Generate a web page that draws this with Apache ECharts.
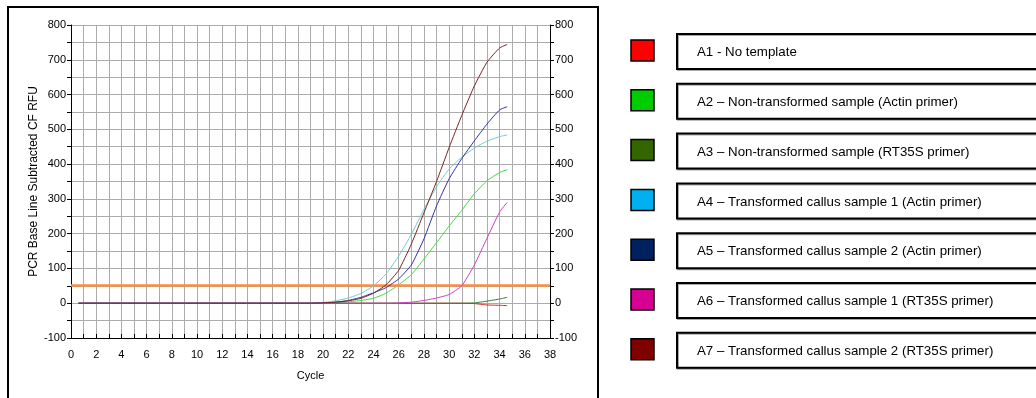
<!DOCTYPE html>
<html>
<head>
<meta charset="utf-8">
<script src="https://cdn.jsdelivr.net/npm/echarts@6/dist/echarts.min.js"></script>
<style>
html,body{margin:0;padding:0;background:#fff;}
#chart{width:1036px;height:398px;}
</style>
</head>
<body>
<div id="chart"></div>
<script>
// ---- data ----
const cycles = [0.6, 1, 2, 3, 4, 5, 6, 7, 8, 9, 10, 11, 12, 13, 14, 15, 16, 17, 18, 19, 20, 21, 22, 23, 24, 25, 26, 27, 28, 29, 30, 31, 32, 33, 34, 34.6];
const seriesNames = [
  'A1 - No template',
  'A2 \u2013 Non-transformed sample (Actin primer)',
  'A3 \u2013 Non-transformed sample (RT35S primer)',
  'A4 \u2013 Transformed callus sample 1 (Actin primer)',
  'A5 \u2013 Transformed callus sample 2 (Actin primer)',
  'A6 \u2013 Transformed callus sample 1 (RT35S primer)',
  'A7 \u2013 Transformed callus sample 2 (RT35S primer)'
];
const a1 = [0,0,0,0,0,0,0,0,0,0,0,0,0,0,0,0,0,0,0,0,0,0,0,0,0,0,0,0,0,0,0,0,-1,-5,-6,-7];
const a2 = [0,0,0,0,0,0,0,0,0,0,0,0,0,0,0,0,0,0,0,0,0,2,4,8,14,29,53,82,127,174,222,267,315,352,376,384];
const a3 = [0,0,0,0,0,0,0,0,0,0,0,0,0,0,0,0,0,0,0,0,0,0,0,0,0,0,0,0,0,0,0,0,1,6,12,17];
const a4 = [0,0,0,0,0,0,0,0,0,0,0,0,0,0,0,0,0,0,0,0,2,7,15,28,50,84,136,198,270,335,386,420,446,466,479,484];
const a5 = [0,0,0,0,0,0,0,0,0,0,0,0,0,0,0,0,0,0,0,0,1,3,8,17,30,45,70,110,185,280,358,416,467,515,556,565];
const a6 = [0,0,0,0,0,0,0,0,0,0,0,0,0,0,0,0,0,0,0,0,0,0,0,0,0,0,1,3,8,15,25,50,110,187,262,290];
const a7 = [0,0,0,0,0,0,0,0,0,0,0,0,0,0,0,0,0,0,0,0,1,3,7,14,29,53,95,170,260,350,448,540,625,693,734,744];
const seriesValues = [a1, a2, a3, a4, a5, a6, a7];
const threshold = 51;
const yTicks = [-100, 0, 100, 200, 300, 400, 500, 600, 700, 800];
const xTicks = [0, 2, 4, 6, 8, 10, 12, 14, 16, 18, 20, 22, 24, 26, 28, 30, 32, 34, 36, 38];

// ---- styles ----
const lineColors = ['#e02020', '#40d840', '#2f7f2f', '#70cccc', '#3030a8', '#cc40cc', '#7a2525'];
const legendColors = ['#ff0000', '#00cc00', '#336600', '#00b0f0', '#002060', '#d60093', '#800000'];
const FONT = '"Liberation Sans", Arial, sans-serif';
const gridColor = '#ababab';

const chart = echarts.init(document.getElementById('chart'), null, {renderer: 'canvas'});

const series = seriesValues.map((vals, i) => ({
  name: seriesNames[i],
  type: 'line',
  data: vals.map((v, j) => [cycles[j], v]),
  showSymbol: false,
  smooth: 0.15,
  lineStyle: {color: lineColors[i], width: 1},
  itemStyle: {color: lineColors[i]},
  z: 3 + i,
  animation: false
}));
series.push({
  name: 'Threshold',
  type: 'line',
  data: [],
  markLine: {
    silent: true,
    symbol: 'none',
    label: {show: false},
    lineStyle: {color: '#f98e43', width: 2.5, type: 'solid'},
    data: [{yAxis: threshold}]
  },
  z: 2,
  animation: false
});

// legend graphics built from names and colours
const graphics = [{
  type: 'rect', x: 8, y: 7, silent: true,
  shape: {x: 0, y: 0, width: 590, height: 420},
  style: {fill: 'none', stroke: '#000', lineWidth: 2}
}];
seriesNames.forEach((name, i) => {
  const top = 34 + i * 49.8;
  graphics.push({
    type: 'rect', silent: true, x: 631, y: top + 6,
    shape: {width: 23, height: 21},
    style: {fill: legendColors[i], stroke: '#000', lineWidth: 1.5}
  });
  graphics.push({
    type: 'rect', silent: true, x: 677, y: top,
    shape: {width: 420, height: 35},
    style: {fill: '#fff', stroke: '#000', lineWidth: 2, shadowColor: 'rgba(0,0,0,0.35)', shadowOffsetX: 1, shadowOffsetY: 1, shadowBlur: 0}
  });
  graphics.push({
    type: 'text', silent: true, x: 697, y: top + 18.5,
    style: {text: name, fill: '#000', font: '13.3px ' + FONT, verticalAlign: 'middle', align: 'left'}
  });
});

const yAxisBase = {
  type: 'value', min: yTicks[0], max: yTicks[yTicks.length - 1], interval: 100,
  axisLine: {show: true, lineStyle: {color: '#000', width: 1}},
  axisTick: {show: true, length: 4, lineStyle: {color: '#000'}},
  minorTick: {show: true, splitNumber: 2, length: 4, lineStyle: {color: '#000'}},
  axisLabel: {color: '#000', fontFamily: FONT, fontSize: 11, margin: 5}
};

chart.setOption({
  backgroundColor: '#fff',
  animation: false,
  grid: {left: 71, right: 486, top: 25, bottom: 60, containLabel: false},
  xAxis: {
    type: 'value', min: xTicks[0], max: xTicks[xTicks.length - 1], interval: 2,
    name: 'Cycle', nameLocation: 'middle', nameGap: 32,
    nameTextStyle: {color: '#000', fontFamily: FONT, fontSize: 11},
    axisLine: {show: true, onZero: false, lineStyle: {color: '#000', width: 1}},
    axisTick: {show: true, inside: true, length: 4, lineStyle: {color: '#000'}},
    minorTick: {show: true, splitNumber: 2, length: 4, lineStyle: {color: '#000'}},
    axisLabel: {color: '#000', fontFamily: FONT, fontSize: 11, margin: 11},
    splitLine: {show: true, lineStyle: {color: gridColor, width: 1}},
    minorSplitLine: {show: true, lineStyle: {color: gridColor, width: 1}}
  },
  yAxis: [
    Object.assign({}, yAxisBase, {
      position: 'left',
      name: 'PCR Base Line Subtracted CF RFU', nameLocation: 'middle', nameGap: 31,
      nameTextStyle: {color: '#000', fontFamily: FONT, fontSize: 12},
      splitLine: {show: true, lineStyle: {color: gridColor, width: 1}},
      minorSplitLine: {show: true, lineStyle: {color: gridColor, width: 1}}
    }),
    Object.assign({}, yAxisBase, {
      position: 'right',
      splitLine: {show: false},
      minorSplitLine: {show: false}
    })
  ],
  series: series,
  graphic: graphics
});
</script>
</body>
</html>
